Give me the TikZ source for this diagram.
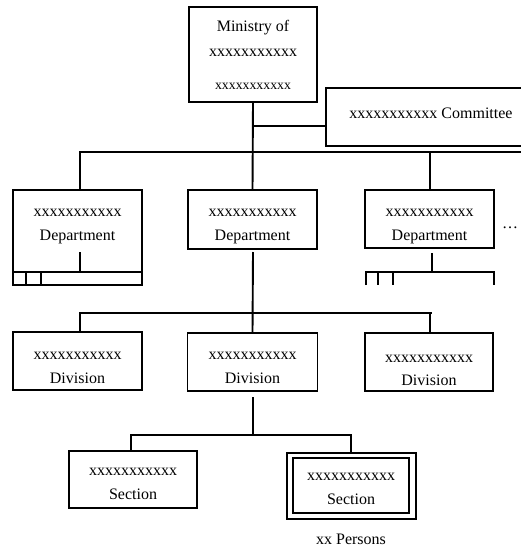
\documentclass[tikz,border=0pt]{standalone}
\usepackage{fontspec}
\setmainfont{Liberation Serif}
\begin{document}
\begin{tikzpicture}[x=1pt,y=-1pt,
  box/.style={draw,line width=1.9pt,rectangle,inner sep=0pt,outer sep=0pt},
  conn/.style={line width=1.9pt},
  txt/.style={anchor=base,inner sep=0pt,font=\fontsize{16}{18}\selectfont},
  smalltxt/.style={anchor=base,inner sep=0pt,font=\fontsize{13.8}{16}\selectfont}]
\useasboundingbox (0,0) rectangle (521,546);
\clip (0,0) rectangle (521,546);
% boxes
\node[box,minimum width=128pt,minimum height=95pt] (min) at (253,54.5) {};
\node[box,minimum width=210pt,minimum height=58pt] (com) at (431,117) {};
\node[box,minimum width=129pt,minimum height=95pt] (d1) at (77.5,237.5) {};
\node[box,minimum width=129pt,minimum height=59pt] (d2) at (252.5,219.5) {};
\node[box,minimum width=129pt,minimum height=58pt] (d3) at (429.5,219) {};
\node[box,minimum width=129pt,minimum height=58pt] (v1) at (77.5,361) {};
\node[box,minimum width=130pt,minimum height=58pt] (v2) at (252.5,362) {};
\node[box,minimum width=128pt,minimum height=58pt] (v3) at (429,362) {};
\node[box,minimum width=128pt,minimum height=57pt] (s1) at (133,479.5) {};
\node[box,minimum width=129pt,minimum height=66pt] (s2) at (351.5,486) {};
\node[box,minimum width=116pt,minimum height=55pt] (s2in) at (351,485.5) {};
% texts
\node[txt] (t1) at (253,31.5) {Ministry of};
\node[txt] (t2) at (253,56.5) {xxxxxxxxxxx};
\node[smalltxt] (t3) at (253,89) {xxxxxxxxxxx};
\node[txt] (tc) at (431,118) {xxxxxxxxxxx Committee};
\node[txt] (d1a) at (77.5,216.5) {xxxxxxxxxxx};
\node[txt] (d1b) at (77.5,240) {Department};
\node[txt] (d2a) at (252.5,216.5) {xxxxxxxxxxx};
\node[txt] (d2b) at (252.5,240) {Department};
\node[txt] (d3a) at (429.5,216.5) {xxxxxxxxxxx};
\node[txt] (d3b) at (429.5,240) {Department};
\node[txt] (dots) at (510,228) {\ldots};
\node[txt] (v1a) at (77.5,359.5) {xxxxxxxxxxx};
\node[txt] (v1b) at (77.5,383) {Division};
\node[txt] (v2a) at (252.5,359.5) {xxxxxxxxxxx};
\node[txt] (v2b) at (252.5,383) {Division};
\node[txt] (v3a) at (429,362) {xxxxxxxxxxx};
\node[txt] (v3b) at (429,385.5) {Division};
\node[txt] (s1a) at (133,475.5) {xxxxxxxxxxx};
\node[txt] (s1b) at (133,499) {Section};
\node[txt] (s2a) at (351,480.5) {xxxxxxxxxxx};
\node[txt] (s2b) at (351,504) {Section};
\node[txt] (pers) at (351,544) {xx Persons};
% coordinates
\coordinate (hr) at (530,152);
\coordinate (hl) at (80,152);
\coordinate (d2s) at (253,252);
\coordinate (dl) at (80,313);
\coordinate (dr) at (432,313);
\coordinate (v2s) at (253,397);
\coordinate (sl) at (131,435);
\coordinate (sr) at (351,435);
% connectors top
\draw[conn] (min.south) -- (d2.north);
\draw[conn] (253,126) -- (com.west |- 0,126);
\draw[conn] (d1.north -| hl) -- (hl) -- (hr);
\draw[conn] (430,152) -- (d3.north -| 430,0);
% dept1 inner band
\draw[conn] (80,252) -- (80,272);
\draw[conn] (d1.west |- 0,272) -- (d1.east |- 0,272);
\draw[conn] (26,272) -- (26,285);
\draw[conn] (41,272) -- (41,285);
% dept3 band
\draw[conn] (432,253) -- (432,272);
\draw[conn] (366,285) -- (366,272) -- (494,272) -- (494,285);
\draw[conn] (378,272) -- (378,285);
\draw[conn] (393,272) -- (393,285);
% divisions
\draw[conn] (d2s) -- (v2.north);
\draw[conn] (v1.north -| dl) -- (dl) -- (dr);
\draw[conn] (430,313) -- (v3.north -| 430,0);
% sections
\draw[conn] (v2s) -- (253,435);
\draw[conn] (s1.north -| sl) -- (sl) -- (sr) -- (s2.north -| sr);
\end{tikzpicture}
\end{document}
